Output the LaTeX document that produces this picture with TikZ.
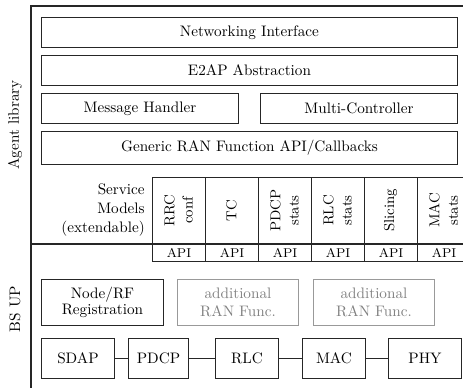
\documentclass[tikz,border=0pt]{standalone}
\usepackage{fontspec}

\newcommand{\pxu}{0.625pt}

\begin{document}
\begin{tikzpicture}[x=0.625pt,y=-0.625pt,
    blk/.style={draw=black!85,line width=0.6pt,inner sep=0pt,align=center,anchor=north west,
        font=\fontsize{9.5}{10}\selectfont},
    gblk/.style={blk,draw=black!40,text=black!50},
    smcol/.style={draw=black!85,line width=0.6pt,rotate=90,inner sep=0pt,align=center,
        minimum width=67*\pxu,minimum height=53*\pxu,font=\fontsize{9}{11.5}\selectfont},
    apicell/.style={draw=black!85,line width=0.6pt,inner sep=0pt,anchor=north west,
        minimum width=53*\pxu,minimum height=17*\pxu,font=\fontsize{8}{9}\selectfont},
    frame/.style={line width=0.9pt,black!85}]
    \useasboundingbox (0,0) rectangle (463,387);

    % outer frame and split between agent and base station
    \draw[frame] (470,6) -| (31,390);
    \draw[frame] (31,244) -- (470,244);

    \node[rotate=90,font=\fontsize{9.5}{10}\selectfont] (aglib) at (15,125) {Agent library};
    \node[rotate=90,font=\fontsize{9.5}{10}\selectfont] (bsup) at (15,309) {BS UP};

    % agent library layers
    \node[blk,minimum width=416*\pxu,minimum height=30*\pxu] (netif) at (41,17) {Networking Interface};
    \node[blk,minimum width=416*\pxu,minimum height=30*\pxu] (e2ap) at (41,55) {E2AP Abstraction};
    \node[blk,minimum width=197*\pxu,minimum height=30*\pxu] (msgh) at (41,93) {Message Handler};
    \node[blk,minimum width=197*\pxu,minimum height=30*\pxu] (mctrl) at (260,93) {Multi-Controller};
    \node[blk,minimum width=416*\pxu,minimum height=33*\pxu] (genran) at (41,131) {Generic RAN Function API/Callbacks};

    % service models
    \node[align=right,anchor=east,inner sep=0pt,font=\fontsize{9.5}{11.7}\selectfont] (smlab) at (145,210)
        {Service\\Models\\(extendable)};
    \node[smcol] (rrc) at (178.5,210.5) {RRC\\conf};
    \node[smcol] (tc) at (231.5,210.5) {TC};
    \node[smcol] (pdcps) at (284.5,210.5) {PDCP\\stats};
    \node[smcol] (rlcs) at (337.5,210.5) {RLC\\stats};
    \node[smcol] (slic) at (390.5,210.5) {Slicing};
    \node[smcol] (macs) at (443.5,210.5) {MAC\\stats};

    \node[apicell] (api1) at (152,244) {API};
    \node[apicell] (api2) at (205,244) {API};
    \node[apicell] (api3) at (258,244) {API};
    \node[apicell] (api4) at (311,244) {API};
    \node[apicell] (api5) at (364,244) {API};
    \node[apicell] (api6) at (417,244) {API};

    % base station user plane
    \node[blk,minimum width=122*\pxu,minimum height=46*\pxu,font=\fontsize{9.5}{9.6}\selectfont] (noderf) at (41,279)
        {Node/RF\\Registration};
    \node[gblk,minimum width=121*\pxu,minimum height=46*\pxu,font=\fontsize{9.5}{11}\selectfont] (addran1) at (177,279)
        {additional\\RAN Func.};
    \node[gblk,minimum width=121*\pxu,minimum height=46*\pxu,font=\fontsize{9.5}{11}\selectfont] (addran2) at (313,279)
        {additional\\RAN Func.};

    \node[blk,minimum width=73*\pxu,minimum height=40*\pxu] (sdap) at (41,338) {SDAP};
    \node[blk,minimum width=60*\pxu,minimum height=40*\pxu] (pdcp) at (128,338) {PDCP};
    \node[blk,minimum width=63*\pxu,minimum height=40*\pxu] (rlc) at (215,338) {RLC};
    \node[blk,minimum width=63*\pxu,minimum height=40*\pxu] (mac) at (302,338) {MAC};
    \node[blk,minimum width=73*\pxu,minimum height=40*\pxu] (phy) at (388,338) {PHY};

    \draw[line width=0.6pt,black!85] (sdap) -- (pdcp);
    \draw[line width=0.6pt,black!85] (pdcp) -- (rlc);
    \draw[line width=0.6pt,black!85] (rlc) -- (mac);
    \draw[line width=0.6pt,black!85] (mac) -- (phy);

\end{tikzpicture}
\end{document}
